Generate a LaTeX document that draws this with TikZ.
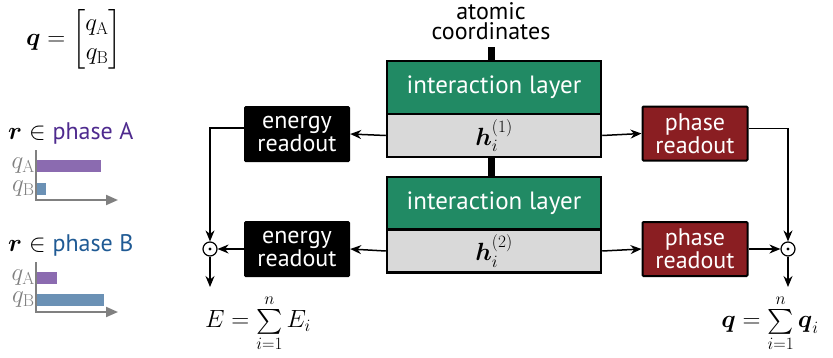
\documentclass[tikz,border=0pt]{standalone}
\usepackage{amsmath}
\usepackage[no-math]{fontspec}
\newfontfamily\labfont{PT Sans}
\usetikzlibrary{arrows.meta,calc}
\definecolor{intgreen}{HTML}{218A64}
\definecolor{readred}{HTML}{8A1E22}
\definecolor{hgray}{HTML}{D9D9D9}
\definecolor{phA}{HTML}{4E2A8E}
\definecolor{phB}{HTML}{1F5A94}
\definecolor{barA}{HTML}{8B6BB0}
\definecolor{barB}{HTML}{6B91B5}
\definecolor{axgray}{HTML}{808080}
\tikzset{
  mth/.style={font=\fontsize{24}{28}\selectfont},
  intbox/.style={draw=black,line width=2.5pt,fill=intgreen,text=white,minimum width=214pt,minimum height=53pt,inner sep=0pt,font=\labfont\fontsize{25}{25}\selectfont},
  hbox/.style={draw=black,line width=2.5pt,fill=hgray,minimum width=214pt,minimum height=43pt,inner sep=0pt,mth},
  ebox/.style={fill=black,text=white,rounded corners=1.5pt,minimum width=106pt,minimum height=56pt,inner sep=0pt,align=center,font=\labfont\fontsize{24}{19}\selectfont},
  pbox/.style={draw=black,line width=2pt,fill=readred,text=white,rounded corners=1pt,minimum width=105pt,minimum height=54pt,inner sep=0pt,align=center,font=\labfont\fontsize{24}{19}\selectfont},
  sumc/.style={circle,draw=black,line width=1.2pt,fill=white,minimum size=14pt,inner sep=0pt},
  arr/.style={line width=1.5pt,-{Stealth[length=11pt,width=9pt]}},
  thickline/.style={line width=7pt},
  axis/.style={draw=axgray,line width=2pt},
  axarr/.style={axis,-{Triangle[length=12pt,width=10pt]}},
  glab/.style={text=axgray,anchor=east,inner sep=0pt,font=\fontsize{24}{28}\selectfont},
}
\begin{document}
\begin{tikzpicture}[x=1pt,y=-1pt]
\useasboundingbox (0,0) rectangle (833,357);

% left legend
\node[font=\fontsize{24}{29}\selectfont,inner sep=0pt] (qvec) at (74,39) {$\boldsymbol{q} = \begin{bmatrix} q_{\mathrm{A}}\\ q_{\mathrm{B}}\end{bmatrix}$};
\node[mth,anchor=west,inner sep=0pt] (phA) at (8,133) {$\boldsymbol{r}\in{}${\labfont\fontsize{24}{24}\selectfont\color{phA} phase A}};
\node[mth,anchor=west,inner sep=0pt] (phB) at (8,245) {$\boldsymbol{r}\in{}${\labfont\fontsize{24}{24}\selectfont\color{phB} phase B}};

% chart A
\fill[barA] (37,160) rectangle (101,172);
\fill[barB] (37,183) rectangle (46,195);
\draw[axis] (36,150) -- (36,200);
\draw[axarr] (35,200) -- (118,200);
\node[glab] (aqa) at (35,166) {$q_{\mathrm{A}}$};
\node[glab] (aqb) at (35,189) {$q_{\mathrm{B}}$};
% chart B
\fill[barA] (37,272) rectangle (57,284);
\fill[barB] (37,294) rectangle (104,306);
\draw[axis] (36,262) -- (36,312);
\draw[axarr] (35,312) -- (118,312);
\node[glab] (bqa) at (35,278) {$q_{\mathrm{A}}$};
\node[glab] (bqb) at (35,300) {$q_{\mathrm{B}}$};

% input
\node[inner sep=0pt,font=\labfont\fontsize{24}{24}\selectfont] (atom1) at (491,11) {atomic};
\node[inner sep=0pt,font=\labfont\fontsize{24}{24}\selectfont] (atom2) at (491,31) {coordinates};
\coordinate (atomb) at (491,47);

% interaction blocks
\node[intbox] (int1) at (494,87.5) {interaction layer};
\node[hbox] (h1) at (494,135.5) {$\boldsymbol{h}_i^{(1)}$};
\node[intbox] (int2) at (494,203.5) {interaction layer};
\node[hbox] (h2) at (494,251) {$\boldsymbol{h}_i^{(2)}$};

\draw[thickline] (atomb) -- (atomb |- int1.north);
\draw[thickline] (h1.south -| atomb) -- (int2.north -| atomb);

% readouts
\node[ebox] (e1) at (297,134) {energy\\readout};
\node[ebox] (e2) at (297,249) {energy\\readout};
\node[pbox] (p1) at (695,133.5) {phase\\readout};
\node[pbox] (p2) at (695,249) {phase\\readout};

% sums
\node[sumc] (s1) at (210,249) {};
\fill (s1.center) circle (1.6pt);
\node[sumc] (s2) at (788,249) {};
\fill (s2.center) circle (1.6pt);
\coordinate (eout) at (210,287);
\coordinate (qout) at (788,287);

\draw[arr] (h1.west) -- (e1.east);
\draw[arr] (h2.west) -- (e2.east);
\draw[arr] ($(e1.west)+(0,-6)$) -| (s1.north);
\draw[arr] (e2.west) -- (s1.east);
\draw[arr] (s1.south) -- (eout);

\draw[arr] (h1.east) -- (p1.west);
\draw[arr] (h2.east) -- (p2.west);
\draw[arr] ($(p1.east)+(0,-5)$) -| (s2.north);
\draw[arr] (p2.east) -- (s2.west);
\draw[arr] (s2.south) -- (qout);

\node[mth,inner sep=0pt] (esum) at (258,323) {$E = \sum\limits_{i=1}^{n} E_i$};
\node[mth,inner sep=0pt] (qsum) at (770,323) {$\boldsymbol{q} = \sum\limits_{i=1}^{n} \boldsymbol{q}_i$};
\end{tikzpicture}
\end{document}
